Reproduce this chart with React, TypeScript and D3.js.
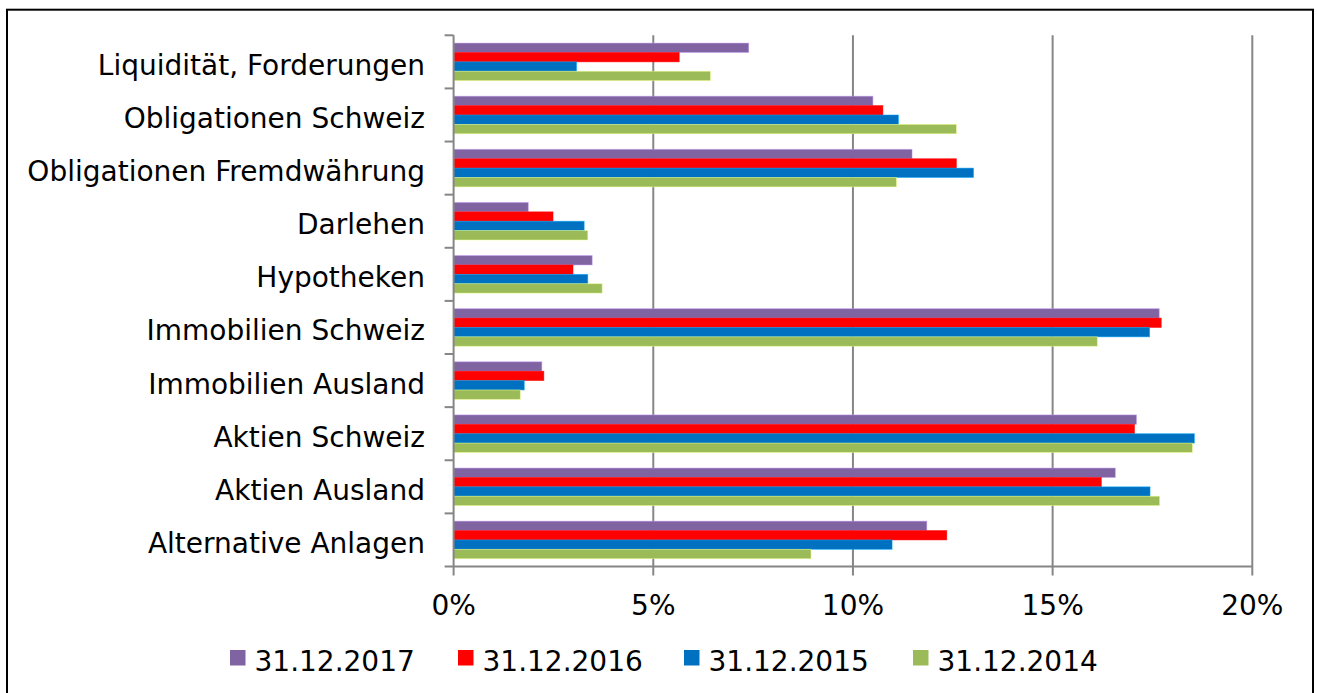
import React, { useEffect, useRef } from 'react';
import * as d3 from 'd3';

const categories = [
  'Liquidität, Forderungen',
  'Obligationen Schweiz',
  'Obligationen Fremdwährung',
  'Darlehen',
  'Hypotheken',
  'Immobilien Schweiz',
  'Immobilien Ausland',
  'Aktien Schweiz',
  'Aktien Ausland',
  'Alternative Anlagen',
];

const seriesNames = ['31.12.2017', '31.12.2016', '31.12.2015', '31.12.2014'];
const seriesColors = ['#8064A2', '#FF0000', '#0070C0', '#9BBB59'];

// values in percent, one array per reporting date
const values2017 = [7.39, 10.5, 11.48, 1.87, 3.47, 17.67, 2.21, 17.1, 16.57, 11.85];
const values2016 = [5.65, 10.75, 12.59, 2.49, 2.99, 17.72, 2.26, 17.05, 16.22, 12.35];
const values2015 = [3.08, 11.14, 13.02, 3.27, 3.36, 17.43, 1.77, 18.55, 17.44, 10.98];
const values2014 = [6.43, 12.59, 11.09, 3.36, 3.72, 16.12, 1.67, 18.5, 17.68, 8.95];

const xTicks = [0, 5, 10, 15, 20];

const W = 1317;
const H = 693;
const FONT = "'DejaVu Sans', Verdana, sans-serif";

export default function App() {
  const ref = useRef<SVGSVGElement>(null);

  useEffect(() => {
    const svg = d3.select(ref.current);
    svg.selectAll('*').remove();

    const allSeries = [values2017, values2016, values2015, values2014];
    const plot = { left: 453.6, right: 1252.3, top: 35.3, bottom: 566.5 };
    const grey = '#868686';

    // outer frame (bottom edge runs off the picture)
    svg.append('rect')
      .attr('x', 7).attr('y', 9.7)
      .attr('width', 1306).attr('height', 700)
      .attr('fill', 'white').attr('stroke', 'black').attr('stroke-width', 2);

    const x = d3.scaleLinear().domain([0, 20]).range([plot.left, plot.right]);
    const y = d3.scaleBand<string>()
      .domain(categories)
      .range([plot.top, plot.bottom])
      .paddingInner(0.293)
      .paddingOuter(0.1465);
    const ySeries = d3.scaleBand<number>()
      .domain(d3.range(seriesNames.length))
      .range([0, y.bandwidth()]);

    // vertical gridlines (running through to the tick marks under the axis)
    svg.append('g').selectAll('line')
      .data(xTicks.slice(1))
      .enter().append('line')
      .attr('x1', d => x(d)).attr('x2', d => x(d))
      .attr('y1', plot.top).attr('y2', plot.bottom + 9)
      .attr('stroke', grey).attr('stroke-width', 2);

    // bars
    categories.forEach((cat, ci) => {
      const g = svg.append('g').attr('transform', `translate(0,${y(cat)})`);
      allSeries.forEach((vals, si) => {
        const c = d3.color(seriesColors[si])!;
        g.append('rect')
          .attr('x', x(0))
          .attr('y', ySeries(si)!)
          .attr('width', x(vals[ci]) - x(0))
          .attr('height', ySeries.bandwidth())
          .attr('fill', seriesColors[si])
          .attr('stroke', c.brighter(1.2).formatHex())
          .attr('stroke-opacity', 0.6)
          .attr('stroke-width', 0.8);
      });
    });

    // category axis
    const step = y.step();
    const boundaries = d3.range(categories.length).map(i => plot.top + i * step);
    svg.append('line')
      .attr('x1', plot.left).attr('x2', plot.left)
      .attr('y1', plot.top).attr('y2', plot.bottom + 9)
      .attr('stroke', grey).attr('stroke-width', 2);
    svg.append('g').selectAll('line')
      .data(boundaries)
      .enter().append('line')
      .attr('x1', plot.left - 9).attr('x2', plot.left)
      .attr('y1', d => d).attr('y2', d => d)
      .attr('stroke', grey).attr('stroke-width', 2);

    svg.append('g').selectAll('text')
      .data(categories)
      .enter().append('text')
      .attr('x', 425)
      .attr('y', d => y(d)! + y.bandwidth() / 2 + 13)
      .attr('text-anchor', 'end')
      .attr('font-family', FONT)
      .attr('font-size', 28)
      .attr('fill', '#000')
      .text(d => d);

    // value axis
    svg.append('line')
      .attr('x1', plot.left - 9).attr('x2', plot.right)
      .attr('y1', plot.bottom).attr('y2', plot.bottom)
      .attr('stroke', grey).attr('stroke-width', 2);

    svg.append('g').selectAll('text')
      .data(xTicks)
      .enter().append('text')
      .attr('x', d => x(d))
      .attr('y', 615)
      .attr('text-anchor', 'middle')
      .attr('font-family', FONT)
      .attr('font-size', 28)
      .attr('fill', '#000')
      .text(d => `${d}%`);

    // legend
    const legendX = [230, 458, 684, 913];
    const legend = svg.append('g').selectAll('g')
      .data(seriesNames)
      .enter().append('g')
      .attr('transform', (d, i) => `translate(${legendX[i]},650)`);
    legend.append('rect')
      .attr('width', 15.5).attr('height', 15.5)
      .attr('fill', (d, i) => seriesColors[i]);
    legend.append('text')
      .attr('x', 24.5).attr('y', 20.7)
      .attr('font-family', FONT)
      .attr('font-size', 28)
      .attr('fill', '#000')
      .text(d => d);
  }, []);

  return (
    <svg
      ref={ref}
      width={W}
      height={H}
      style={{ position: 'absolute', left: 0, top: 0, background: 'white' }}
    />
  );
}
